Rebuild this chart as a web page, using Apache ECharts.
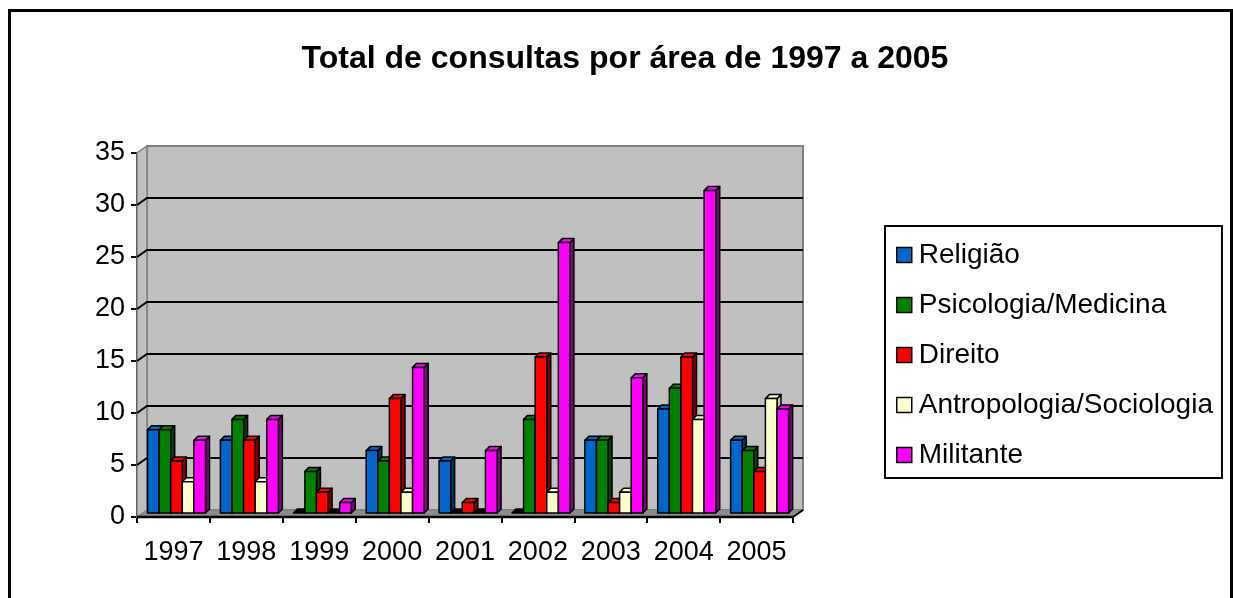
<!DOCTYPE html>
<html>
<head>
<meta charset="utf-8">
<script src="https://cdn.jsdelivr.net/npm/echarts@6/dist/echarts.min.js"></script>
<style>
  html, body { margin: 0; padding: 0; background: #fff; }
  #chart { width: 1233px; height: 598px; }
</style>
</head>
<body>
<div id="chart"></div>
<script>
// dados
var anos = ['1997', '1998', '1999', '2000', '2001', '2002', '2003', '2004', '2005'];
var religiao = [8, 7, 0, 6, 5, 0, 7, 10, 7];
var psicologia = [8, 9, 4, 5, 0, 9, 7, 12, 6];
var direito = [5, 7, 2, 11, 1, 15, 1, 15, 4];
var antropologia = [3, 3, 0, 2, 0, 2, 2, 9, 11];
var militante = [7, 9, 1, 14, 6, 26, 13, 31, 10];
var yTicks = [0, 5, 10, 15, 20, 25, 30, 35];

var series = [
  { name: 'Religião', data: religiao, color: '#0066CC', side: '#003366' },
  { name: 'Psicologia/Medicina', data: psicologia, color: '#008000', side: '#004000' },
  { name: 'Direito', data: direito, color: '#FF0000', side: '#800000' },
  { name: 'Antropologia/Sociologia', data: antropologia, color: '#FFFFCC', side: '#C8C8A0' },
  { name: 'Militante', data: militante, color: '#FF00FF', side: '#800080' }
];

var FONT = "'Liberation Sans', Arial, sans-serif";
var DX = 10, DY = -7;   // profundidade da parede do fundo
var BAR_W = 11.6, BAR_D = 4, BAR_OFF = 10.5;

var chart = echarts.init(document.getElementById('chart'));

// parede do fundo, parede lateral e chão
function renderFrame(params, api) {
  var cs = params.coordSys;
  var x0 = cs.x, x1 = cs.x + cs.width;
  var yb = api.coord([0, 0])[1];
  var yt = api.coord([0, 35])[1];
  var children = [];
  // parede do fundo
  children.push({
    type: 'rect',
    shape: { x: x0 + DX, y: yt + DY, width: x1 - x0, height: yb - yt },
    style: { fill: '#C0C0C0', stroke: '#808080', lineWidth: 2 }
  });
  // parede lateral
  children.push({
    type: 'polygon',
    shape: { points: [[x0, yb], [x0 + DX, yb + DY], [x0 + DX, yt + DY], [x0, yt]] },
    style: { fill: '#C0C0C0', stroke: '#808080', lineWidth: 1.5 }
  });
  // linhas de grade
  yTicks.forEach(function (v) {
    if (v === 0 || v === 35) return;
    var y = api.coord([0, v])[1];
    children.push({
      type: 'polyline',
      shape: { points: [[x0, y], [x0 + DX, y + DY], [x1 + DX, y + DY]] },
      style: { stroke: '#000', lineWidth: 2, fill: null }
    });
  });
  // chão
  children.push({
    type: 'polygon',
    shape: { points: [[x0, yb], [x0 + DX, yb + DY], [x1 + DX, yb + DY], [x1, yb]] },
    style: { fill: '#8C8C8C', stroke: '#808080', lineWidth: 1 }
  });
  children.push({
    type: 'polyline',
    shape: { points: [[x1, yb], [x1 + DX, yb + DY]] },
    style: { stroke: '#000', lineWidth: 2, fill: null }
  });
  return { type: 'group', children: children };
}

function makeBarRenderer(idx, s) {
  return function (params, api) {
    var cat = api.value(0), val = api.value(1);
    var band = api.size([1, 0])[0];
    var c = api.coord([cat, val]);
    var b = api.coord([cat, 0]);
    var x = c[0] - band / 2 + BAR_OFF + idx * BAR_W;
    var yTop = c[1] - 4, yBot = b[1] - 4;
    var w = BAR_W, d = BAR_D;
    var st = { stroke: '#000', lineWidth: 1.5, lineJoin: 'round' };
    var children = [];
    if (val > 0) {
      children.push({
        type: 'polygon',
        shape: { points: [[x + w, yTop], [x + w + d, yTop - d], [x + w + d, yBot - d], [x + w, yBot]] },
        style: Object.assign({ fill: s.side }, st)
      });
    }
    children.push({
      type: 'polygon',
      shape: { points: [[x, yTop], [x + d, yTop - d], [x + w + d, yTop - d], [x + w, yTop]] },
      style: Object.assign({ fill: val > 0 ? s.color : '#000' }, st)
    });
    if (val > 0) {
      children.push({
        type: 'rect',
        shape: { x: x, y: yTop, width: w, height: yBot - yTop },
        style: Object.assign({ fill: s.color }, st)
      });
    }
    return { type: 'group', children: children };
  };
}

var seriesList = [{
  type: 'custom',
  name: '_frame',
  silent: true,
  z: 1,
  data: [[0, 0]],
  renderItem: renderFrame
}];

series.forEach(function (s, i) {
  seriesList.push({
    type: 'custom',
    name: s.name,
    z: 3,
    itemStyle: { color: s.color, borderColor: '#000', borderWidth: 1.5 },
    data: s.data.map(function (v, k) { return [k, v]; }),
    renderItem: makeBarRenderer(i, s)
  });
});

chart.setOption({
  animation: false,
  backgroundColor: '#fff',
  textStyle: { fontFamily: FONT },
  title: {
    text: 'Total de consultas por área de 1997 a 2005',
    left: 620,
    textAlign: 'center',
    top: 38,
    textStyle: { fontFamily: FONT, fontSize: 32, fontWeight: 'bold', color: '#000' }
  },
  legend: {
    data: series.map(function (s) { return s.name; }),
    orient: 'vertical',
    left: 885,
    top: 226,
    padding: [14, 9, 8, 11],
    borderColor: '#000',
    borderWidth: 2,
    itemWidth: 15,
    itemHeight: 15,
    itemGap: 20,
    icon: 'rect',
    itemStyle: { borderColor: '#000', borderWidth: 1.5 },
    textStyle: { fontFamily: FONT, fontSize: 28, color: '#000', lineHeight: 30, padding: [0, 0, 0, 2] },
    selectedMode: false
  },
  grid: { left: 137, top: 153, width: 656, height: 364 },
  xAxis: {
    type: 'category',
    data: anos,
    axisLine: { show: false },
    axisTick: { show: true, length: 6, lineStyle: { color: '#000', width: 2 } },
    axisLabel: { fontFamily: FONT, fontSize: 27, color: '#000', margin: 22, interval: 0, hideOverlap: false },
    splitLine: { show: false }
  },
  yAxis: {
    type: 'value',
    min: 0, max: 35, interval: 5,
    axisLine: { show: true, lineStyle: { color: '#000', width: 2 } },
    axisTick: { show: true, length: 6, lineStyle: { color: '#000', width: 2 } },
    axisLabel: { fontFamily: FONT, fontSize: 27, color: '#000', margin: 12 },
    splitLine: { show: false }
  },
  series: seriesList
});

// moldura externa e linha do eixo x por cima do chão
chart.setOption({
  graphic: [{
    type: 'rect',
    left: 7, top: 8,
    shape: { width: 1222, height: 620 },
    style: { fill: null, stroke: '#000', lineWidth: 3 },
    silent: true
  }, {
    type: 'line',
    shape: {
      x1: chart.convertToPixel({ xAxisIndex: 0 }, 0) - 656 / 18,
      y1: chart.convertToPixel({ yAxisIndex: 0 }, 0),
      x2: chart.convertToPixel({ xAxisIndex: 0 }, 8) + 656 / 18,
      y2: chart.convertToPixel({ yAxisIndex: 0 }, 0)
    },
    style: { stroke: '#000', lineWidth: 2.5 },
    z: 10,
    silent: true
  }]
});
</script>
</body>
</html>
